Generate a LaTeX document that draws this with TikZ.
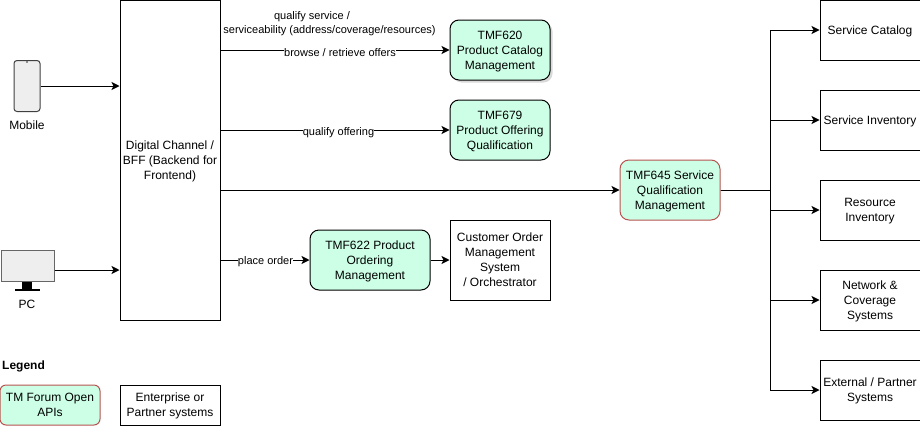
\documentclass[tikz,border=0pt]{standalone}
\usepackage{fontspec}
\setmainfont{Liberation Sans}
\usetikzlibrary{shadows, arrows.meta}
\definecolor{apifill}{HTML}{CCFFE6}
\definecolor{apired}{HTML}{B85450}
\definecolor{devfill}{HTML}{EEEEEE}
\definecolor{devline}{HTML}{666666}
\tikzset{
	sysbox/.style={draw=black, fill=white, line width=1pt, inner sep=0pt, minimum width=100pt, minimum height=60pt, align=center, text depth=0pt, font=\fontsize{12}{15}\selectfont},
	apibox/.style={sysbox, fill=apifill, rounded corners=9pt},
	redbox/.style={apibox, draw=apired},
	lbl/.style={draw=none, inner sep=0pt, align=center, font=\fontsize{11}{14}\selectfont},
	txt/.style={draw=none, inner sep=0pt, align=center, font=\fontsize{12}{15}\selectfont},
	link/.style={-{Stealth[length=8pt, width=8pt, inset=2pt]}, line width=1pt}
}
\begin{document}
\begin{tikzpicture}[x=1pt, y=-1pt]
\useasboundingbox (0,0) rectangle (920,426);

\path (170,160) node[sysbox, minimum height=320pt] (channel) {Digital Channel /\\BFF (Backend for\\Frontend)};

\path (500,50) node[apibox, drop shadow={opacity=0.3, shadow xshift=2.5pt, shadow yshift=-2.5pt}] (tmf620) {TMF620\\Product Catalog\\Management};
\path (500,130) node[apibox] (tmf679) {TMF679\\Product Offering\\Qualification};
\path (670,190) node[redbox] (tmf645) {TMF645 Service\\Qualification\\Management};
\path (370,260) node[apibox, minimum width=120pt] (tmf622) {TMF622 Product\\Ordering\\Management};
\path (500,260) node[sysbox, minimum height=80pt] (order) {Customer Order\\Management\\System\\/ Orchestrator};

\path (870,30) node[sysbox] (catalog) {Service Catalog};
\path (870,120) node[sysbox] (inventory) {Service Inventory};
\path (870,210) node[sysbox] (resource) {Resource\\Inventory};
\path (870,300) node[sysbox] (network) {Network \&\\Coverage\\Systems};
\path (870,390) node[sysbox] (partner) {External / Partner\\Systems};

% devices
\path (27,86) node[draw=black!75, fill=devfill, line width=1pt, rounded corners=3pt, inner sep=0pt, minimum width=26pt, minimum height=51pt] (phone) {};
\fill[black!80] (27,62) circle (0.8pt);
\path (27.5,266) node[draw=devline, fill=devfill, line width=1pt, inner sep=0pt, minimum width=53pt, minimum height=31pt] (screen) {};
\fill[black] (22,282) rectangle (32,289);
\fill[black] (15,289) rectangle (40,291);
\path (27,125) node[txt] (mobile) {Mobile};
\path (27,304) node[txt] (pc) {PC};

\draw [link] (phone.east) -- (phone.east -| channel.west);
\draw [link] (screen.east |- 0,270) -- (channel.west |- 0,270);

\draw [link] (channel.east |- tmf620) -- (tmf620);
\draw [link] (channel.east |- tmf679) -- (tmf679);
\draw [link] (channel.east |- tmf645) -- (tmf645);
\draw [link] (channel.east |- tmf622) -- (tmf622);
\draw [link] (tmf622) -- (order);

\path (329.5,24) node[lbl] (qualify) {qualify service /\hspace*{35pt}\\serviceability (address/coverage/resources)};
\path (340,53) node[lbl, fill=white] (browse) {browse / retrieve offers};
\path (338.5,133) node[lbl, fill=white] (offering) {qualify offering};
\path (265.5,262) node[lbl, fill=white] (place) {place order};

\foreach \target in {catalog, inventory, resource, network, partner}
{
	\draw [link] (tmf645.east) -- (770,190) |- (\target.west);
}

% legend
\path (2,366) node[txt, anchor=west, font=\fontsize{12}{15}\selectfont\bfseries] (legend) {Legend};
\path (50,405) node[redbox, minimum height=40pt, rounded corners=6pt] (openapi) {TM Forum Open\\APIs};
\path (170,405) node[sysbox, minimum height=40pt] (enterprise) {Enterprise or\\Partner systems};
\end{tikzpicture}
\end{document}
